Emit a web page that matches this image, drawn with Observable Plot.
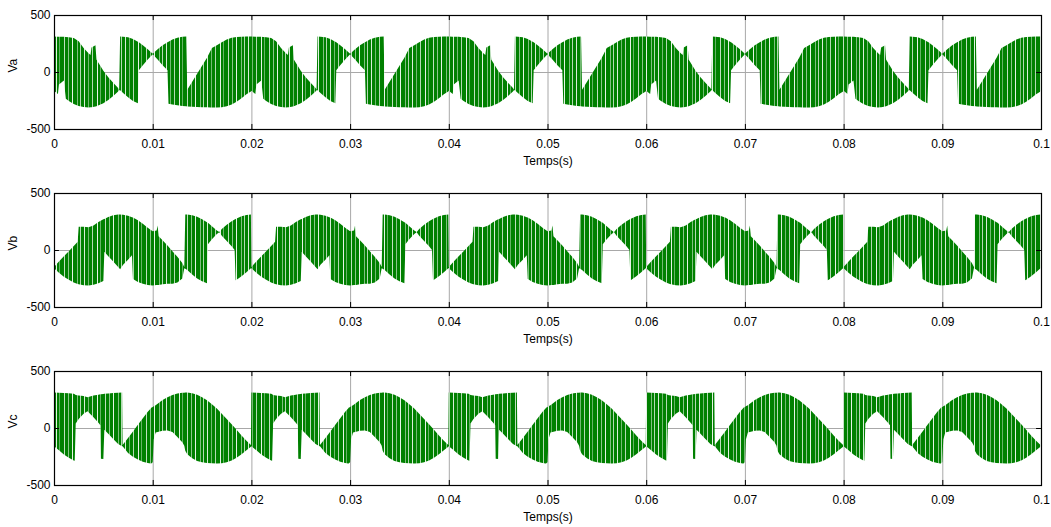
<!DOCTYPE html>
<html>
<head>
<meta charset="utf-8">
<script src="https://cdn.jsdelivr.net/npm/d3@7"></script>
<script src="https://cdn.jsdelivr.net/npm/@observablehq/plot@0.6"></script>
<style>
  html, body { margin: 0; padding: 0; background: #fff; }
  #wrap { position: relative; width: 1051px; height: 527px; overflow: hidden; background: #fff; }
  #wrap svg { position: absolute; left: 0; }
</style>
</head>
<body>
<div id="wrap"></div>
<script>
// ---- Tick labels ----
const xTickLabels = ["0", "0.01", "0.02", "0.03", "0.04", "0.05", "0.06", "0.07", "0.08", "0.09", "0.1"];
const yTickLabels = ["-500", "0", "500"];
const xTitle = "Temps(s)";
const panelNames = ["Va", "Vb", "Vc"];
const periodMs = 20;      // the waveform repeats every 0.02 s
const periodCount = 5;    // 0 .. 0.1 s

// ---- One period (ms) of each PWM waveform: upper and lower envelope of the switching lines ----
const tA  = [0, 0.4, 0.5, 1.0, 1.2, 1.5, 2.0, 2.5, 3.0, 3.5, 3.7, 3.8, 4.2, 4.3, 5.0, 5.5, 6.0, 6.5, 6.6, 6.7, 7.0, 7.5, 8.0, 8.5, 8.6, 9.0, 9.5, 10.0, 10.5, 11.0, 11.5, 11.6, 12.0, 12.5, 13.0, 13.4, 13.5, 14.0, 14.5, 15.0, 15.5, 15.9, 16.0, 16.5, 17.0, 17.5, 18.0, 18.5, 19.0, 19.5, 19.95];
const hiA = [311, 310, 310, 309, 308, 305, 298, 270, 210, 165, 150, 215, 235, 110, 10, -45, -95, -140, -155, 311, 310, 305, 290, 265, 260, 235, 200, 160, 200, 235, 262, 266, 285, 300, 309, 311, -155, -85, -15, 55, 125, 192, 210, 235, 260, 285, 300, 306, 309, 311, 311];
const loA = [-165, -192, -110, -75, -235, -255, -280, -298, -308, -311, -310, -309, -303, -300, -275, -245, -210, -172, -160, -160, -185, -222, -255, -275, 15, 60, 110, 155, 110, 60, 15, -278, -285, -292, -298, -300, -302, -305, -307, -309, -310, -311, -311, -311, -309, -300, -284, -261, -231, -196, -170];

const tB  = [0, 0.5, 1.0, 1.5, 2.0, 2.4, 2.5, 3.0, 3.5, 4.0, 4.5, 5.0, 5.1, 5.5, 6.0, 6.5, 6.7, 7.0, 7.5, 7.9, 8.0, 8.5, 9.0, 9.5, 10.0, 10.4, 10.5, 10.6, 11.0, 11.5, 12.0, 12.5, 13.0, 13.2, 13.3, 13.5, 14.0, 14.5, 15.0, 15.5, 15.6, 16.0, 16.5, 16.75, 17.0, 17.5, 18.0, 18.3, 18.4, 18.5, 19.0, 19.5, 19.95];
const hiB = [-150, -100, -55, -10, 35, 72, 205, 205, 200, 215, 245, 270, 273, 290, 304, 311, 311, 309, 300, 288, 284, 261, 231, 196, 165, 170, 215, 120, 85, 40, -10, -60, -115, -150, 311, 311, 305, 292, 270, 243, 238, 208, 172, 158, 185, 222, 252, 268, 272, 277, 296, 307, 311];
const loB = [-160, -200, -235, -262, -285, -298, -300, -309, -311, -305, -292, -272, -15, -55, -100, -150, -168, -130, -85, -45, -255, -280, -297, -307, -311, -308, -307, -306, -300, -297, -295, -285, -250, -160, -165, -175, -215, -250, -275, -292, 50, 95, 140, 155, 125, 78, 32, 0, -265, -261, -231, -196, -160];

const tC  = [0, 0.5, 1.0, 1.5, 2.0, 2.1, 2.2, 2.5, 3.0, 3.4, 4.0, 4.5, 4.7, 4.75, 5.0, 5.1, 5.5, 6.0, 6.5, 6.9, 6.95, 7.5, 8.0, 8.5, 9.0, 9.5, 9.8, 9.85, 10.0, 10.1, 10.3, 11.0, 11.5, 12.0, 12.5, 13.0, 13.2, 13.3, 13.5, 14.0, 14.5, 15.0, 15.5, 16.0, 16.5, 17.0, 17.5, 18.0, 18.5, 19.0, 19.5, 19.95];
const hiC = [311, 310, 308, 305, 300, 295, 290, 285, 280, 270, 285, 292, 295, 296, 298, 300, 303, 307, 310, 311, -150, -88, -30, 28, 85, 143, 170, 178, 185, 190, 200, 245, 270, 290, 303, 309, 310, 311, 311, 305, 292, 270, 243, 208, 170, 126, 80, 33, -16, -65, -111, -150];
const loC = [-160, -196, -232, -262, -285, -287, 40, 80, 125, 148, 95, 45, 25, -270, -272, -15, -50, -96, -141, -160, -160, -220, -252, -277, -296, -307, -311, -311, -300, -100, -40, -25, -22, -35, -80, -126, -155, -200, -230, -265, -290, -300, -306, -309, -311, -309, -300, -284, -261, -231, -196, -165];

const xTicks = xTickLabels.map(Number);
const yTicks = yTickLabels.map(Number);

function tile(t, hi, lo) {
  const rows = [];
  for (let k = 0; k < periodCount; k++) {
    for (let i = 0; i < t.length; i++) {
      rows.push({t: (k * periodMs + t[i]) / 1000, hi: hi[i], lo: lo[i]});
    }
  }
  rows.push({t: periodCount * periodMs / 1000, hi: hi[0], lo: lo[0]});
  return rows;
}

const series = [tile(tA, hiA, loA), tile(tB, hiB, loB), tile(tC, hiC, loC)];
const layout = [
  {top: 0, height: 178},
  {top: 178, height: 178},
  {top: 356, height: 171}
];

const ns = "http://www.w3.org/2000/svg";
function addPattern(svg, id) {
  const defs = document.createElementNS(ns, "defs");
  const pat = document.createElementNS(ns, "pattern");
  pat.setAttribute("id", id);
  pat.setAttribute("patternUnits", "userSpaceOnUse");
  pat.setAttribute("width", "41");
  pat.setAttribute("height", "4");
  const bg = document.createElementNS(ns, "rect");
  bg.setAttribute("width", "41"); bg.setAttribute("height", "4"); bg.setAttribute("fill", "#008000");
  pat.appendChild(bg);
  [[2, 0.85], [6, 0.45], [10, 0.7], [15, 0.9], [18, 0.4], [23, 0.75], [27, 0.55], [31, 0.9], [36, 0.5], [39, 0.7]].forEach(([x, o]) => {
    const r = document.createElementNS(ns, "rect");
    r.setAttribute("x", x); r.setAttribute("width", "1"); r.setAttribute("height", "4");
    r.setAttribute("fill", "#ffffff"); r.setAttribute("fill-opacity", o);
    pat.appendChild(r);
  });
  defs.appendChild(pat);
  svg.insertBefore(defs, svg.firstChild);
}

const wrap = document.getElementById("wrap");
series.forEach((rows, p) => {
  const id = "pwm" + p;
  const {top, height} = layout[p];
  const svg = Plot.plot({
    width: 1051,
    height,
    marginTop: 15,
    marginBottom: height - 129,
    marginLeft: 54,
    marginRight: 10,
    style: {fontFamily: "'Liberation Sans', Arial, sans-serif", fontSize: "12px", background: "#fff", color: "#000", overflow: "visible"},
    x: {domain: [0, 0.1], label: null},
    y: {domain: [-500, 500], label: null},
    marks: [
      Plot.gridX(xTicks, {stroke: "#a8a8a8", strokeOpacity: 1}),
      Plot.gridY([0], {stroke: "#a8a8a8", strokeOpacity: 1}),
      Plot.areaY(rows, {x: "t", y1: "lo", y2: "hi", fill: `url(#${id})`, curve: "linear"}),
      Plot.ruleX(xTicks, {y1: 500, y2: 456, stroke: "#000"}),
      Plot.ruleX(xTicks, {y1: -500, y2: -456, stroke: "#000"}),
      Plot.ruleY(yTicks, {x1: 0, x2: 0.0005, stroke: "#000"}),
      Plot.ruleY(yTicks, {x1: 0.1, x2: 0.0995, stroke: "#000"}),
      Plot.frame({stroke: "#000", strokeWidth: 1.2}),
      Plot.axisX(xTicks, {anchor: "bottom", tickSize: 0, tickPadding: 10, label: null,
        tickFormat: d => xTickLabels[xTicks.indexOf(d)]}),
      Plot.axisY(yTicks, {anchor: "left", tickSize: 0, tickPadding: 4, label: null,
        tickFormat: d => yTickLabels[yTicks.indexOf(d)]}),
      Plot.text([xTitle], {frameAnchor: "bottom", dy: 35, fontSize: 12}),
      Plot.text([panelNames[p]], {frameAnchor: "left", dx: -41, rotate: -90, fontSize: 12})
    ]
  });
  addPattern(svg, id);
  svg.style.top = top + "px";
  wrap.appendChild(svg);
});
</script>
</body>
</html>
